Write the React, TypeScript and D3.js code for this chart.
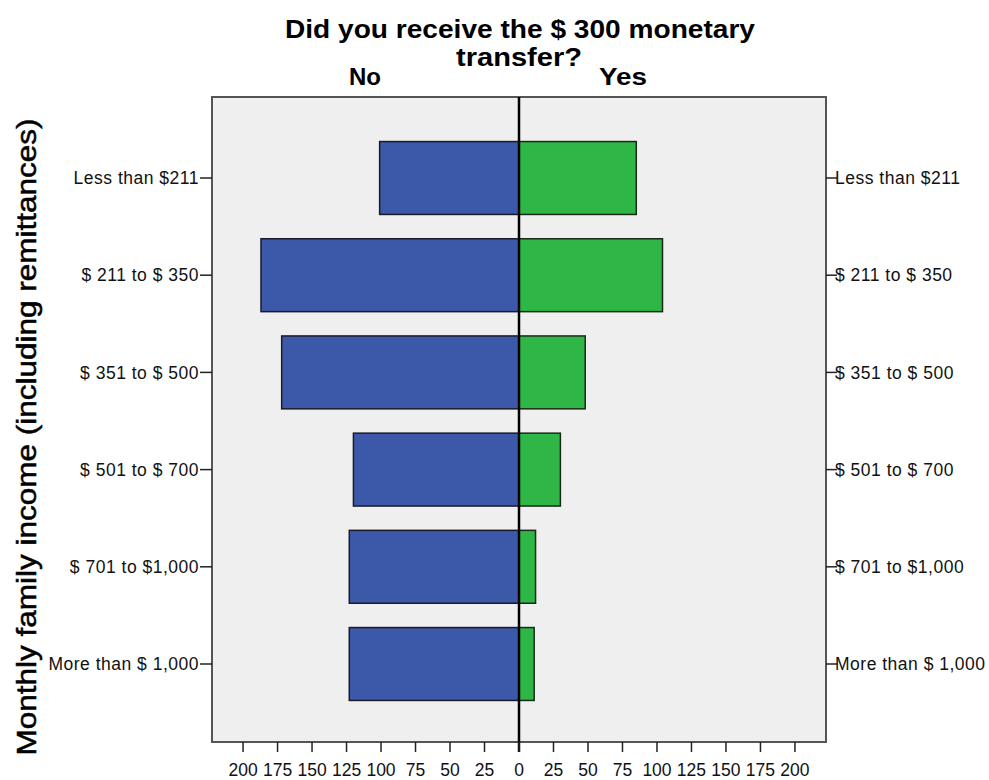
import React from 'react';
import * as d3 from 'd3';

const categories = [
  'Less than $211',
  '$ 211 to $ 350',
  '$ 351 to $ 500',
  '$ 501 to $ 700',
  '$ 701 to $1,000',
  'More than $ 1,000',
];
const noValues = [101, 187, 172, 120, 123, 123];
const yesValues = [85, 104, 48, 30, 12, 11];
const tickValues = [-200, -175, -150, -125, -100, -75, -50, -25, 0, 25, 50, 75, 100, 125, 150, 175, 200];

const width = 989;
const height = 780;
const box = { left: 212, right: 826, top: 97, bottom: 742 };
const font = '"Liberation Sans", Arial, sans-serif';

const App: React.FC = () => {
  const xScale = d3.scaleLinear()
    .domain([-222.5, 222.5])
    .range([box.left, box.right]);

  const yScale = d3.scaleBand<string>()
    .domain(categories)
    .range([129.4, 712.6])
    .paddingInner(0.25)
    .paddingOuter(0.125);

  const bw = yScale.bandwidth();
  const center = (c: string) => (yScale(c) as number) + bw / 2;

  return (
    <svg width={width} height={height} style={{ position: 'absolute', left: 0, top: 0, background: '#fff' }}>
      {/* title */}
      <text x={520} y={38} textAnchor="middle" fontFamily={font} fontWeight="bold" fontSize={26} fill="#000"
        textLength={470} lengthAdjust="spacingAndGlyphs">
        Did you receive the $ 300 monetary
      </text>
      <text x={519} y={66} textAnchor="middle" fontFamily={font} fontWeight="bold" fontSize={26} fill="#000"
        textLength={126} lengthAdjust="spacingAndGlyphs">
        transfer?
      </text>
      <text x={365} y={85} textAnchor="middle" fontFamily={font} fontWeight="bold" fontSize={23} fill="#000"
        textLength={32} lengthAdjust="spacingAndGlyphs">No</text>
      <text x={623} y={85} textAnchor="middle" fontFamily={font} fontWeight="bold" fontSize={23} fill="#000"
        textLength={48} lengthAdjust="spacingAndGlyphs">Yes</text>

      {/* plot area */}
      <rect x={box.left} y={box.top} width={box.right - box.left} height={box.bottom - box.top}
        fill="#efefef" stroke="#555" strokeWidth={2} />

      {categories.map((c, i) => (
        <g key={c}>
          <rect x={xScale(-noValues[i])} y={yScale(c)} width={xScale(0) - xScale(-noValues[i])} height={bw}
            fill="#3c58a8" stroke="#1a1a2a" strokeWidth={1.5} />
          <rect x={xScale(0)} y={yScale(c)} width={xScale(yesValues[i]) - xScale(0)} height={bw}
            fill="#2eb646" stroke="#1a2a1a" strokeWidth={1.5} />
        </g>
      ))}

      <line x1={xScale(0)} x2={xScale(0)} y1={box.top} y2={box.bottom + 10} stroke="#000" strokeWidth={2.5} />

      {/* left / right category axes */}
      {categories.map(c => (
        <g key={'t' + c}>
          <line x1={box.left - 12} x2={box.left} y1={center(c)} y2={center(c)} stroke="#222" strokeWidth={1.5} />
          <text x={box.left - 13} y={center(c)} dy="0.35em" textAnchor="end" fontFamily={font} fontSize={17.5}
            letterSpacing={0.5} fill="#111">{c}</text>
          <line x1={box.right} x2={box.right + 11} y1={center(c)} y2={center(c)} stroke="#222" strokeWidth={1.5} />
          <text x={box.right + 9} y={center(c)} dy="0.35em" textAnchor="start" fontFamily={font} fontSize={17.5}
            letterSpacing={0.5} fill="#111">{c}</text>
        </g>
      ))}

      {/* bottom axis */}
      {tickValues.map(t => (
        <g key={'x' + t}>
          <line x1={xScale(t)} x2={xScale(t)} y1={box.bottom} y2={box.bottom + 10} stroke="#222" strokeWidth={1.5} />
          <text x={xScale(t)} y={776} textAnchor="middle" fontFamily={font} fontSize={17.5} fill="#111">{Math.abs(t)}</text>
        </g>
      ))}

      {/* y title */}
      <text transform={`translate(36, 437) rotate(-90)`} textAnchor="middle" fontFamily={font} fontSize={28} fill="#000"
        stroke="#000" strokeWidth={0.5} textLength={637} lengthAdjust="spacingAndGlyphs">
        Monthly family income (including remittances)
      </text>
    </svg>
  );
};

export default App;
